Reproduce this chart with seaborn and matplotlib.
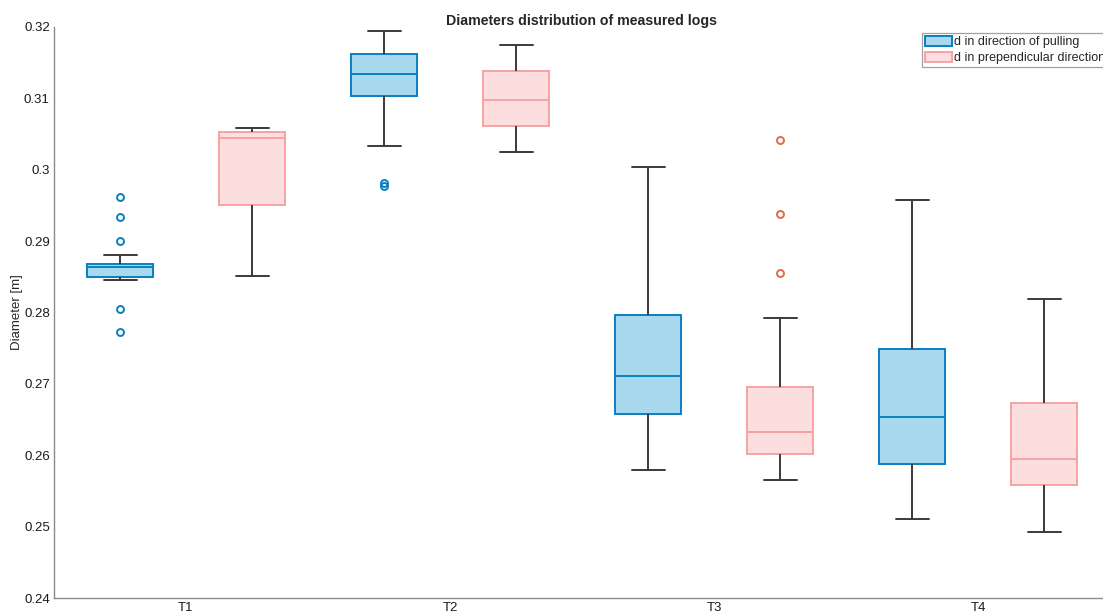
import numpy as np
import pandas as pd
import matplotlib
matplotlib.use("Agg")
import matplotlib.pyplot as plt
from matplotlib.patches import Patch
import seaborn as sns

# ---- data ----
groups = ["T1", "T2", "T3", "T4"]
series_names = ["d in direction of pulling", "d in prependicular direction"]

t1_pull = [0.2773, 0.2805, 0.2846, 0.2848, 0.2850, 0.2852, 0.2857, 0.2860, 0.2863,
           0.2865, 0.2866, 0.2867, 0.2868, 0.2881, 0.2900, 0.2934, 0.2961]
t1_perp = [0.2851, 0.2905, 0.2951, 0.3000, 0.3044, 0.3049, 0.3053, 0.3055, 0.3058]
t2_pull = [0.2977, 0.2981, 0.3033, 0.3103, 0.3115, 0.3126, 0.3134, 0.3142, 0.3152,
           0.3162, 0.3170, 0.3182, 0.3194]
t2_perp = [0.3025, 0.3042, 0.3061, 0.3080, 0.3098, 0.3118, 0.3138, 0.3156, 0.3175]
t3_pull = [0.2580, 0.2620, 0.2658, 0.2685, 0.2711, 0.2750, 0.2797, 0.2900, 0.3003]
t3_perp = [0.2565, 0.2575, 0.2588, 0.2596, 0.2602, 0.2610, 0.2618, 0.2625, 0.2633,
           0.2648, 0.2660, 0.2682, 0.2696, 0.2792, 0.2855, 0.2938, 0.3042]
t4_pull = [0.2511, 0.2550, 0.2588, 0.2620, 0.2654, 0.2700, 0.2749, 0.2850, 0.2958]
t4_perp = [0.2493, 0.2525, 0.2559, 0.2578, 0.2595, 0.2630, 0.2673, 0.2740, 0.2819]

ytick_values = [0.24, 0.25, 0.26, 0.27, 0.28, 0.29, 0.30, 0.31, 0.32]
ytick_labels = ["0.24", "0.25", "0.26", "0.27", "0.28", "0.29", "0.3", "0.31", "0.32"]

pull_data = {"T1": t1_pull, "T2": t2_pull, "T3": t3_pull, "T4": t4_pull}
perp_data = {"T1": t1_perp, "T2": t2_perp, "T3": t3_perp, "T4": t4_perp}

rows = []
for name, d in zip(series_names, [pull_data, perp_data]):
    for g in groups:
        for v in d[g]:
            rows.append({"group": g, "series": name, "value": v})
df = pd.DataFrame(rows)

# ---- style ----
sns.set_style("white")
plt.rcParams["font.family"] = ["Liberation Sans", "DejaVu Sans"]

face_cols = {series_names[0]: "#A9D9EF", series_names[1]: "#FDDEDF"}
edge_cols = {series_names[0]: "#0A7FC0", series_names[1]: "#F4A3A3"}
flier_cols = {series_names[0]: "#0A7FC0", series_names[1]: "#E06A4A"}
whisk_col = "#3a3a3a"

fig = plt.figure(figsize=(11.03, 6.15), dpi=100)
ax = fig.add_axes([54 / 1103, 1 - 598.3 / 615, (1110 - 54) / 1103, (598.3 - 26.7) / 615])

for s in series_names:
    sub = df[df["series"] == s]
    sns.boxplot(
        data=sub, x="group", y="value", hue="series",
        order=groups, hue_order=series_names,
        palette={n: face_cols[s] for n in series_names},
        saturation=1, width=1.0, gap=0.5, dodge=True,
        linecolor=edge_cols[s], linewidth=1.4,
        whiskerprops=dict(color=whisk_col, linewidth=1.4),
        capprops=dict(color=whisk_col, linewidth=1.4),
        medianprops=dict(color=edge_cols[s], linewidth=1.4),
        flierprops=dict(marker="o", markerfacecolor="none",
                        markeredgecolor=flier_cols[s], markersize=5,
                        markeredgewidth=1.4),
        legend=False, ax=ax,
    )

ax.set_xlim(-0.5, 3.5)
ax.set_ylim(0.24, 0.32)
ax.set_yticks(ytick_values)
ax.set_yticklabels(ytick_labels)
ax.set_xlabel("")
ax.set_ylabel("Diameter [m]", fontsize=9.5, labelpad=1)
ax.set_title("Diameters distribution of measured logs", fontsize=10.2,
             fontweight="bold", pad=1.5)

for side in ["top", "right"]:
    ax.spines[side].set_visible(False)
for side in ["left", "bottom"]:
    ax.spines[side].set_color("#8a8a8a")
    ax.spines[side].set_linewidth(1.0)
ax.tick_params(axis="both", direction="in", length=7.5, width=0.9,
               color="#8a8a8a", labelsize=9.5, labelcolor="#1a1a1a")
ax.tick_params(axis="x", pad=3)
ax.tick_params(axis="y", pad=3)

handles = [Patch(facecolor=face_cols[s], edgecolor=edge_cols[s], linewidth=1.4)
           for s in series_names]
leg = fig.legend(handles, series_names, loc="upper left",
                 bbox_to_anchor=(922 / 1103, 1 - 33 / 615),
                 fontsize=9, frameon=True, fancybox=False,
                 edgecolor="#8a8a8a", borderpad=0.2, labelspacing=0.3,
                 handlelength=2.2, handleheight=0.9, handletextpad=0.15,
                 borderaxespad=0)
leg.get_frame().set_linewidth(0.9)

fig.savefig("out.png", dpi=100)
